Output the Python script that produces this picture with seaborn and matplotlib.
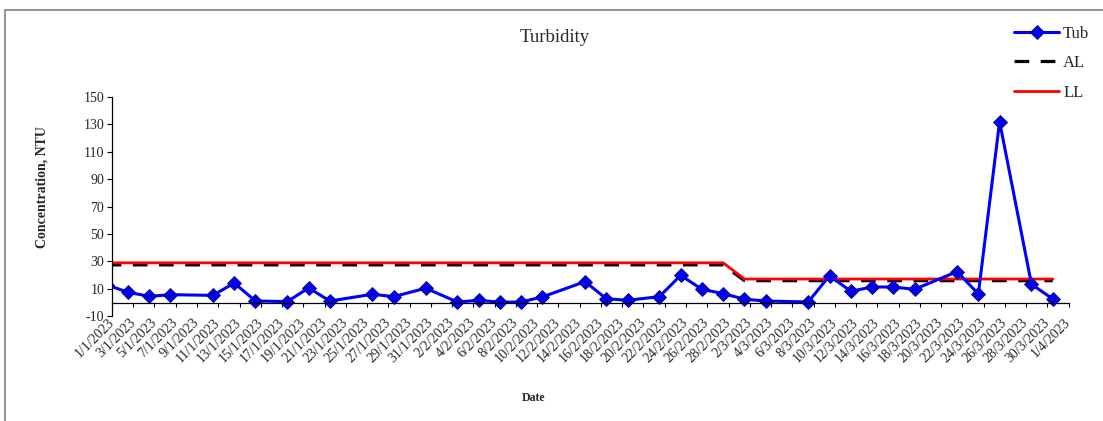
import pandas as pd
import matplotlib
matplotlib.use("Agg")
import matplotlib.pyplot as plt
import matplotlib.patches as mpatches
import seaborn as sns

# Tub readings (first one lies just before the axis start and is clipped)
tub_dates = ["31/12/2022", "2/1/2023", "4/1/2023", "6/1/2023", "10/1/2023", "12/1/2023",
             "14/1/2023", "17/1/2023", "19/1/2023", "21/1/2023", "25/1/2023", "27/1/2023",
             "30/1/2023", "2/2/2023", "4/2/2023", "6/2/2023", "8/2/2023", "10/2/2023",
             "14/2/2023", "16/2/2023", "18/2/2023", "21/2/2023", "23/2/2023", "25/2/2023",
             "27/2/2023", "1/3/2023", "3/3/2023", "7/3/2023", "9/3/2023", "11/3/2023",
             "13/3/2023", "15/3/2023", "17/3/2023", "21/3/2023", "23/3/2023", "25/3/2023",
             "28/3/2023", "30/3/2023"]
tub_values = [13.0, 7.6, 4.6, 5.8, 5.3, 14.3,
              1.2, 0.8, 10.7, 1.2, 6.1, 4.4,
              10.5, 0.5, 1.7, 0.3, 0.5, 4.2,
              15.3, 2.9, 1.7, 4.4, 19.9, 9.7,
              6.6, 2.5, 1.2, 0.5, 19.7, 8.3,
              11.4, 11.4, 9.7, 22.6, 6.3, 131.8,
              13.4, 2.7]

# action / limit levels
limit_dates = ["31/12/2022", "27/2/2023", "1/3/2023", "30/3/2023"]
al_values = [27.5, 27.5, 16.0, 16.0]
ll_values = [29.0, 29.0, 17.2, 17.2]

tick_dates = pd.date_range("2023-01-01", "2023-04-01", freq="2D")
tick_labels = [f"{d.day}/{d.month}/{d.year}" for d in tick_dates]

sns.set_style("white")
plt.rcParams["font.family"] = ["Liberation Serif", "DejaVu Serif"]
plt.rcParams["axes.unicode_minus"] = False

# points sit in the middle of their day, like the Excel date axis
half_day = pd.Timedelta(hours=12)
df_tub = pd.DataFrame({"Date": pd.to_datetime(tub_dates, format="%d/%m/%Y") + half_day,
                       "Tub": tub_values})
df_lim = pd.DataFrame({"Date": pd.to_datetime(limit_dates, format="%d/%m/%Y") + half_day,
                       "AL": al_values, "LL": ll_values})

fig = plt.figure(figsize=(11.03, 4.21), dpi=100)
ax = fig.add_axes([0.1015, 0.2485, 0.8674, 0.5219])

sns.lineplot(data=df_lim, x="Date", y="AL", ax=ax, color="black", linewidth=2.3,
             linestyle=(0, (4.6, 3.6)), label="AL")
sns.lineplot(data=df_lim, x="Date", y="LL", ax=ax, color="#FF0000", linewidth=2.0, label="LL")
sns.lineplot(data=df_tub, x="Date", y="Tub", ax=ax, color="#0000FF", linewidth=2.2,
             marker="D", markersize=7, markerfacecolor="#0000EE",
             markeredgecolor="#000080", markeredgewidth=0.6, label="Tub")

ax.set_xlim(pd.Timestamp("2023-01-01"), pd.Timestamp("2023-04-01"))
ax.set_ylim(-10, 150)
ax.set_yticks(range(-10, 151, 20))
ax.set_xticks(tick_dates, tick_labels)
ax.set_xlabel("")
ax.set_ylabel("")

for s in ["top", "right"]:
    ax.spines[s].set_visible(False)
ax.spines["left"].set_color("black")
ax.spines["left"].set_linewidth(0.9)
ax.spines["bottom"].set_color("black")
ax.spines["bottom"].set_linewidth(0.9)
ax.spines["bottom"].set_position(("data", 0))
ax.tick_params(axis="y", direction="out", length=3.5, width=0.8, color="black",
               labelsize=10, pad=2, left=True)
ax.tick_params(axis="x", direction="out", length=3, width=0.8, color="black",
               labelsize=10, pad=10, bottom=True, labelrotation=45)
for lab in ax.get_xticklabels():
    lab.set_ha("right")
    lab.set_va("center")
    lab.set_rotation_mode("anchor")

fig.text(555 / 1103, 1 - 37 / 421, "Turbidity", ha="center", va="center", fontsize=13.5)
fig.text(42 / 1103, 1 - 187 / 421, "Concentration, NTU", ha="center", va="center",
         rotation=90, fontsize=10, fontweight="bold")
fig.text(533 / 1103, 1 - 398 / 421, "Date", ha="center", va="center",
         fontsize=8.5, fontweight="bold")

handles, labels = ax.get_legend_handles_labels()
order = [labels.index(k) for k in ["Tub", "AL", "LL"]]
ax.legend_.remove()
fig.legend([handles[i] for i in order], [labels[i] for i in order],
           loc="upper left", bbox_to_anchor=(1014 / 1103, 1 - 26 / 421),
           frameon=False, fontsize=12, handlelength=2.7, handletextpad=0.25,
           labelspacing=0.8, borderpad=0, borderaxespad=0)

# outer chart border
fig.patches.append(mpatches.Rectangle((5 / 1103, -0.1), 1.2, 1.1 - 10 / 421,
                                      transform=fig.transFigure, fill=False,
                                      edgecolor="#808080", linewidth=1.2))

fig.savefig("out.png", dpi=100)
